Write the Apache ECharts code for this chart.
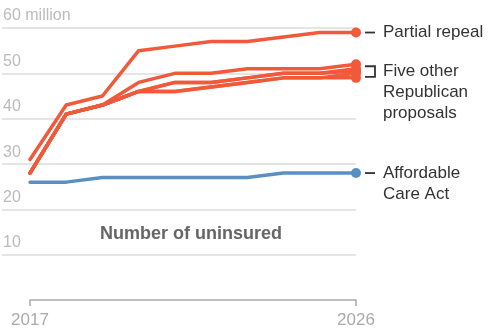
<!DOCTYPE html>
<html>
<head>
<meta charset="utf-8">
<script src="https://cdn.jsdelivr.net/npm/echarts@6/dist/echarts.min.js"></script>
<style>
  html, body { margin: 0; padding: 0; background: #fff; }
  #chart { width: 495px; height: 330px; }
</style>
</head>
<body>
<div id="chart"></div>
<script>
// Projected number of uninsured Americans, in millions
const years = ['2017', '2018', '2019', '2020', '2021', '2022', '2023', '2024', '2025', '2026'];
const partialRepeal = [31, 43, 45, 55, 56, 57, 57, 58, 59, 59];
const proposalA = [28, 41, 43, 48, 50, 50, 51, 51, 51, 52];
const proposalB = [28, 41, 43, 46, 48, 48, 49, 50, 50, 51];
const proposalC = [28, 41, 43, 46, 48, 48, 49, 50, 50, 50.5];
const proposalD = [28, 41, 43, 46, 46, 47, 48, 49, 49, 50];
const proposalE = [28, 41, 43, 46, 46, 47, 48, 49, 49, 49];
const affordableCareAct = [26, 26, 27, 27, 27, 27, 27, 28, 28, 28];
const yTicks = [10, 20, 30, 40, 50, 60];

const RED = '#f05a3b';
const BLUE = '#5a8fc3';
const FONT = '"Liberation Sans", Arial, sans-serif';
const last = years.length - 1;

function lineSeries(name, data, color, width, z) {
  return {
    name: name,
    type: 'line',
    xAxisIndex: 1,
    yAxisIndex: 1,
    data: data,
    z: z,
    showSymbol: true,
    showAllSymbol: true,
    symbol: 'circle',
    symbolSize: function (v, p) { return p.dataIndex === last ? 10 : 0; },
    lineStyle: { color: color, width: width, cap: 'round', join: 'round' },
    itemStyle: { color: color },
    emphasis: { disabled: true },
    silent: true,
    animation: false
  };
}

const chart = echarts.init(document.getElementById('chart'), null, { renderer: 'canvas' });

chart.setOption({
  animation: false,
  title: {
    text: 'Number of uninsured',
    left: 100,
    top: 225,
    padding: 0,
    textStyle: { fontFamily: FONT, fontSize: 18, fontWeight: 'bold', color: '#666' }
  },
  grid: [
    // gridlines and value labels span the full width
    { left: 0, top: 28, width: 356, height: 227 },
    // plotting area for the lines
    { left: 30, top: 28, width: 326, height: 272 }
  ],
  xAxis: [
    { type: 'value', gridIndex: 0, min: 0, max: 1, show: false },
    {
      type: 'category',
      gridIndex: 1,
      data: years,
      boundaryGap: false,
      axisLine: { show: true, lineStyle: { color: '#aaa', width: 1.5 } },
      axisTick: {
        show: true, length: 6, inside: false,
        interval: function (i) { return i === 0 || i === last; },
        lineStyle: { color: '#aaa', width: 1.5 }
      },
      axisLabel: {
        show: true,
        interval: function (i) { return i === 0 || i === last; },
        fontFamily: FONT, fontSize: 17, color: '#aaa', margin: 12
      },
      splitLine: { show: false }
    }
  ],
  yAxis: [
    {
      type: 'value',
      gridIndex: 0,
      min: yTicks[0],
      max: yTicks[yTicks.length - 1],
      interval: 10,
      axisLine: { show: false },
      axisTick: { show: false },
      axisLabel: {
        inside: true,
        margin: 1,
        verticalAlign: 'bottom',
        padding: [0, 0, 4, 0],
        fontFamily: FONT,
        fontSize: 16,
        color: '#bbb',
        formatter: function (v) { return v === 60 ? '60 million' : String(v); }
      },
      splitLine: { show: true, lineStyle: { color: '#ddd', width: 1.5 } }
    },
    {
      type: 'value',
      gridIndex: 1,
      min: 0,
      max: 60,
      show: false,
      splitLine: { show: false }
    }
  ],
  series: [
    lineSeries('Affordable Care Act', affordableCareAct, BLUE, 3.5, 3),
    lineSeries('Proposal E', proposalE, RED, 3.5, 4),
    lineSeries('Proposal D', proposalD, RED, 3.5, 4),
    lineSeries('Proposal C', proposalC, RED, 3.5, 4),
    lineSeries('Proposal B', proposalB, RED, 3.5, 4),
    lineSeries('Proposal A', proposalA, RED, 3.5, 4),
    lineSeries('Partial repeal', partialRepeal, RED, 3.5, 5)
  ]
});

// End-of-line annotations, positioned from the last data values
function px(v) {
  return chart.convertToPixel({ xAxisIndex: 1, yAxisIndex: 1 }, [years[last], v]);
}
const labelStyle = { fontFamily: FONT, fontSize: 17, fill: '#333', textVerticalAlign: 'middle' };
const dashX0 = 365, dashX1 = 375, textX = 383;

const pEnd = px(partialRepeal[last]);
const acaEnd = px(affordableCareAct[last]);
const otherEnds = [proposalA, proposalB, proposalC, proposalD, proposalE].map(function (s) { return s[last]; });
const bTop = px(Math.max.apply(null, otherEnds))[1] + 2;
const bBot = px(Math.min.apply(null, otherEnds))[1] - 1;
const bMid = (bTop + bBot) / 2;
const lineH = 21;

const stroke = { stroke: '#333', lineWidth: 1.8 };
chart.setOption({
  graphic: [
    { type: 'line', shape: { x1: dashX0, y1: pEnd[1], x2: dashX1, y2: pEnd[1] }, style: stroke, silent: true },
    { type: 'text', x: textX, y: pEnd[1], style: Object.assign({ text: 'Partial repeal' }, labelStyle), silent: true },

    { type: 'polyline', shape: { points: [[dashX0, bTop], [dashX1, bTop], [dashX1, bBot], [dashX0, bBot]] },
      style: { stroke: '#333', lineWidth: 1.8, fill: null }, silent: true },
    { type: 'text', x: textX, y: bMid, style: Object.assign({ text: 'Five other' }, labelStyle), silent: true },
    { type: 'text', x: textX, y: bMid + lineH, style: Object.assign({ text: 'Republican' }, labelStyle), silent: true },
    { type: 'text', x: textX, y: bMid + 2 * lineH, style: Object.assign({ text: 'proposals' }, labelStyle), silent: true },

    { type: 'line', shape: { x1: dashX0, y1: acaEnd[1], x2: dashX1, y2: acaEnd[1] }, style: stroke, silent: true },
    { type: 'text', x: textX, y: acaEnd[1], style: Object.assign({ text: 'Affordable' }, labelStyle), silent: true },
    { type: 'text', x: textX, y: acaEnd[1] + lineH, style: Object.assign({ text: 'Care Act' }, labelStyle), silent: true }
  ]
});
</script>
</body>
</html>
